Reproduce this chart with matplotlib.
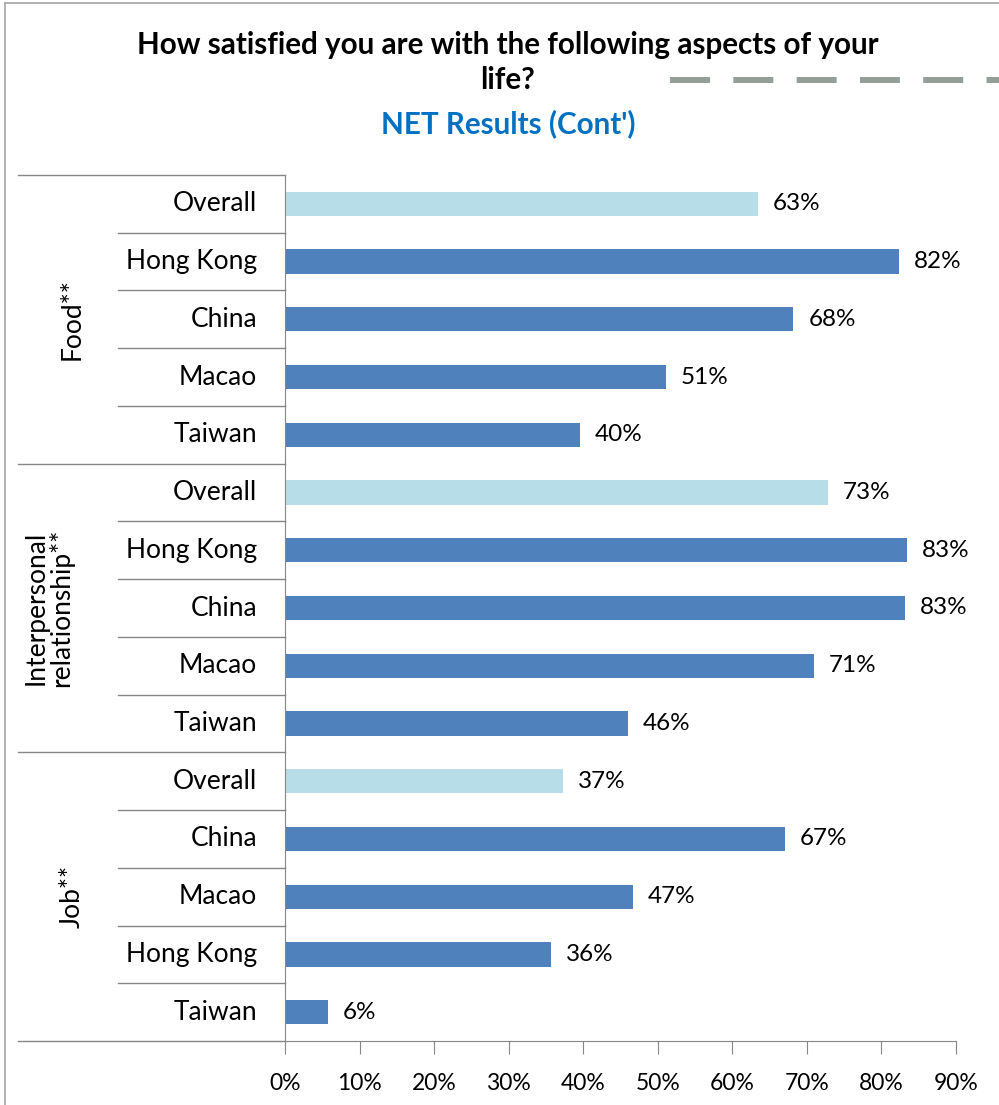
import matplotlib.pyplot as plt
import matplotlib.transforms as mtransforms
import matplotlib.patheffects as pe
from matplotlib.lines import Line2D

plt.rcParams['font.family'] = ['Lato', 'DejaVu Sans']

groups = ["Food**", "Interpersonal\nrelationship**", "Job**"]
labels = ["Overall", "Hong Kong", "China", "Macao", "Taiwan",
          "Overall", "Hong Kong", "China", "Macao", "Taiwan",
          "Overall", "China", "Macao", "Hong Kong", "Taiwan"]
values = [63.4, 82.3, 68.2, 51.1, 39.6,
          72.8, 83.4, 83.2, 70.9, 46.0,
          37.3, 67.0, 46.7, 35.7, 5.8]
overall_color = "#B7DDE8"
country_color = "#4F81BD"

W, H = 999, 1105
fig = plt.figure(figsize=(W / 100, H / 100), dpi=100)
ax = fig.add_axes([285 / W, 1 - 1041 / H, (956 - 285) / W, (1041 - 175) / H])

y = list(range(len(labels)))
colors = [overall_color if l == "Overall" else country_color for l in labels]
ax.barh(y, values, height=0.42, color=colors)
for yi, v in zip(y, values):
    ax.text(v + 2.0, yi, f"{round(v)}%", va="center", ha="left", fontsize=17.5)

ax.set_xlim(0, 90)
ax.set_ylim(len(labels) - 0.5, -0.5)
ax.set_xticks(range(0, 91, 10))
ax.set_xticklabels([f"{t}%" for t in range(0, 91, 10)], fontsize=16.5)
ax.tick_params(axis="x", length=9, color="#868686", pad=14)
ax.set_yticks([])
for s in ["top", "right"]:
    ax.spines[s].set_visible(False)
ax.spines["left"].set_color("#868686")
ax.spines["bottom"].set_color("#868686")

trans = mtransforms.blended_transform_factory(ax.transAxes, ax.transData)
x_row = (118 - 285) / (956 - 285)
x_grp = (18 - 285) / (956 - 285)
x_lab = (257 - 285) / (956 - 285)
for yi, l in zip(y, labels):
    ax.text(x_lab, yi, l, transform=trans, ha="right", va="center", fontsize=19)
for k in range(len(labels) + 1):
    xs = x_grp if k % 5 == 0 else x_row
    ax.plot([xs, 0], [k - 0.5, k - 0.5], transform=trans, color="#868686",
            lw=1, clip_on=False)

grp_x = [(72 - 285) / 671, (49 - 285) / 671, (72 - 285) / 671]
for g, gx, gy in zip(groups, grp_x, [2, 7, 12]):
    ax.text(gx, gy, g, transform=trans, rotation=90, ha="center", va="center",
            fontsize=19, linespacing=1.0)

fig.text(508 / W, 1 - 45 / H, "How satisfied you are with the following aspects of your",
         ha="center", va="center", fontsize=21.3, fontweight="bold")
fig.text(508 / W, 1 - 80 / H, "life?", ha="center", va="center",
         fontsize=21.3, fontweight="bold")
fig.text(508 / W, 1 - 124 / H, "NET Results (Cont')", ha="center", va="center",
         fontsize=21.3, fontweight="bold", color="#0070C0")

# outer frame
fig.add_artist(Line2D([5 / W, 5 / W], [0, 1 - 3 / H], color="#A6A6A6", lw=1.2))
fig.add_artist(Line2D([5 / W, 1], [1 - 3 / H, 1 - 3 / H], color="#A6A6A6", lw=1.2))
# dashed decoration
dash = Line2D([670 / W, 1], [1 - 80 / H, 1 - 80 / H], color="#929E96", lw=4.3,
              dashes=(6.7, 3.9))
dash.set_path_effects([pe.SimplePatchShadow(offset=(1.5, -2), alpha=0.45), pe.Normal()])
fig.add_artist(dash)

fig.savefig("out.png", dpi=100)
